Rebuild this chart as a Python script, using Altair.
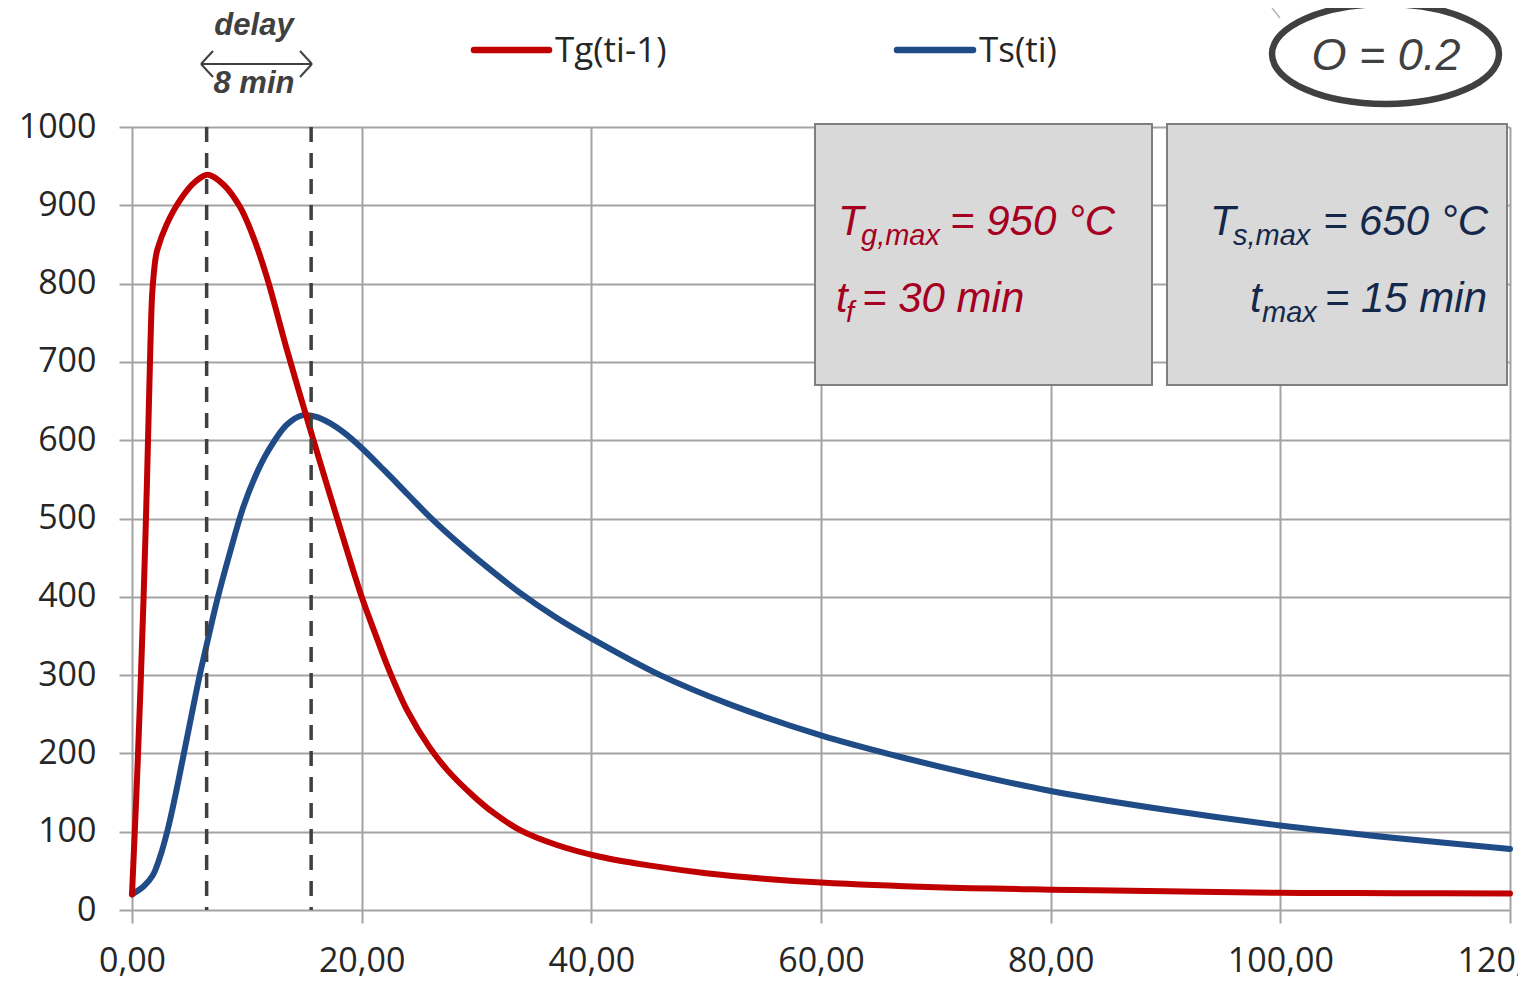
import altair as alt
import pandas as pd

# ---------------- data ----------------
TG_T = [0, 0.5, 1.0, 1.3, 1.6, 1.75, 1.9, 2.05, 2.2, 3.0, 4.2, 5.5, 6.6, 8.0, 9.4,
        10.5, 11.75, 13.5, 15.8, 17.2, 18.6, 20, 21.2, 22.4, 24, 25.9, 27.5, 29.7,
        31.5, 33.8, 37, 40.75, 45, 50, 55, 60, 70, 80, 90, 100, 110, 120]
TG_V = [20, 190, 395, 545, 720, 785, 813, 832, 843, 875, 907, 930, 939, 926, 898,
        862, 808, 715, 600, 532, 465, 400, 352, 306, 254, 208, 178, 146,
        124, 102, 83, 68, 57, 47, 40, 35, 29, 26, 24, 22, 21.5, 21]

TS_T = [0, 1, 1.8, 2.4, 3.1, 3.8, 4.45, 5.2, 5.9, 6.6, 7.4, 8.5, 9.7, 10.8, 11.8,
        13.5, 14.9, 16, 17.2, 18.6, 20, 22, 24, 26, 28, 30, 33.7, 37, 40, 46, 52,
        60, 66.5, 73, 80, 90, 100, 110, 120]
TS_V = [20, 30, 44, 66, 102, 148, 195, 250, 300, 345, 395, 455, 515, 556, 585,
        620, 632, 630, 622, 608, 590, 561, 531, 501, 474, 449, 406, 373, 347, 300, 263,
        223, 197, 174, 152, 128, 108, 92, 78]

X_TICKS = [0, 20, 40, 60, 80, 100, 120]
Y_TICKS = [0, 100, 200, 300, 400, 500, 600, 700, 800, 900, 1000]
DELAY_T = [6.5, 15.6]

SERIES_NAMES = ["Tg(ti-1)", "Ts(ti)"]

# ---------------- layout / style ----------------
W, H = 1378, 783
PAD_L, PAD_T, PAD_R, PAD_B = 124, 119, 8, 72

GRID = "#a3a3a3"
RED = "#c00000"
BLUE = "#1f4b87"
DARK = "#404040"
LABEL = "#262626"
RED_TXT = "#a50021"
NAVY_TXT = "#14284b"


def px(X):
    return X - 8 - PAD_L


def py(Y):
    return Y - 8 - PAD_T


ONE = pd.DataFrame({"k": [0]})


def txt(text, X, Y, size, color, align="left", style="normal", weight="normal",
        font="Liberation Sans"):
    return alt.Chart(ONE).mark_text(
        text=text, align=align, baseline="alphabetic", fontSize=size, font=font,
        fontStyle=style, fontWeight=weight, color=color
    ).encode(x=alt.value(px(X)), y=alt.value(py(Y)))


def seg(X1, Y1, X2, Y2, color, width, cap="butt"):
    return alt.Chart(ONE).mark_rule(color=color, strokeWidth=width, strokeCap=cap).encode(
        x=alt.value(px(X1)), y=alt.value(py(Y1)),
        x2=alt.value(px(X2)), y2=alt.value(py(Y2)))


def box(X1, Y1, X2, Y2):
    return alt.Chart(ONE).mark_rect(fill="#d9d9d9", stroke="#7f7f7f", strokeWidth=2).encode(
        x=alt.value(px(X1)), y=alt.value(py(Y1)),
        x2=alt.value(px(X2)), y2=alt.value(py(Y2)))


tg = pd.DataFrame({"t": TG_T, "v": TG_V})
ts = pd.DataFrame({"t": TS_T, "v": TS_V})

x_enc = alt.X(
    "t:Q",
    scale=alt.Scale(domain=[0, 120], nice=False, zero=False),
    axis=alt.Axis(
        values=X_TICKS, labelExpr="replace(format(datum.value, '.2f'), '.', ',')",
        grid=True, gridColor=GRID, gridWidth=2, tickColor=GRID, tickWidth=2,
        tickSize=13, domain=False, labelFont="Open Sans", labelFontSize=34,
        labelColor=LABEL, labelPadding=21, labelFlush=False, labelOverlap=False,
        title=None),
)
y_enc = alt.Y(
    "v:Q",
    scale=alt.Scale(domain=[0, 1000], nice=False, zero=True),
    axis=alt.Axis(
        values=Y_TICKS, format="d", grid=True, gridColor=GRID, gridWidth=2,
        tickColor=GRID, tickWidth=2, tickSize=13, domain=False,
        labelFont="Open Sans", labelFontSize=34, labelColor=LABEL,
        labelPadding=23, labelFlush=False, labelOverlap=False, title=None),
)

blue_line = alt.Chart(ts).mark_line(
    color=BLUE, strokeWidth=6, interpolate="catmull-rom", strokeCap="round"
).encode(x=x_enc, y=y_enc)

red_line = alt.Chart(tg).mark_line(
    color=RED, strokeWidth=6, interpolate="catmull-rom", strokeCap="round"
).encode(x="t:Q", y="v:Q")

dashed = alt.Chart(pd.DataFrame({"t": DELAY_T})).mark_rule(
    color=DARK, strokeWidth=3.5, strokeDash=[15, 11]
).encode(x="t:Q")

# ellipse around "O = 0.2"
ELL = ("M -1 0 C -1 -0.243 -0.552 -0.44 0 -0.44 C 0.552 -0.44 1 -0.243 1 0 "
       "C 1 0.243 0.552 0.44 0 0.44 C -0.552 0.44 -1 0.243 -1 0 Z")
ellipse = alt.Chart(ONE).mark_point(
    shape=ELL, filled=False, size=227 * 227, strokeWidth=6.5, color=DARK, opacity=1
).encode(x=alt.value(px(1385.5)), y=alt.value(py(54)))

layers = [
    blue_line, red_line, dashed,
    # info boxes
    box(815, 124, 1152, 385), box(1167, 124, 1507, 385),
    txt("T", 838, 235, 42, RED_TXT, style="italic"),
    txt("g,max", 861, 245, 29, RED_TXT, style="italic"),
    txt("= 950 °C", 950, 235, 42, RED_TXT, style="italic"),
    txt("t", 836, 312, 42, RED_TXT, style="italic"),
    txt("f", 846, 322, 29, RED_TXT, style="italic"),
    txt("= 30 min", 862, 312, 42, RED_TXT, style="italic"),
    txt("T", 1210, 235, 42, NAVY_TXT, style="italic"),
    txt("s,max", 1233, 245, 29, NAVY_TXT, style="italic"),
    txt("= 650 °C", 1488, 235, 42, NAVY_TXT, align="right", style="italic"),
    txt("t", 1250, 312, 42, NAVY_TXT, style="italic"),
    txt("max", 1262, 322, 29, NAVY_TXT, style="italic"),
    txt("= 15 min", 1487, 312, 42, NAVY_TXT, align="right", style="italic"),
    # legend
    seg(474, 50, 549, 50, RED, 6.5, cap="round"),
    txt(SERIES_NAMES[0], 555, 62, 35, LABEL, font="Open Sans"),
    seg(897, 50, 973, 50, BLUE, 6.5, cap="round"),
    txt(SERIES_NAMES[1], 979, 62, 35, LABEL, font="Open Sans"),
    # delay annotation
    txt("delay", 254, 35, 31, DARK, align="center", style="italic", weight="bold"),
    txt("8 min", 254, 93, 31, DARK, align="center", style="italic", weight="bold"),
    seg(201, 64, 312, 64, DARK, 2),
    seg(213, 51, 201, 64, DARK, 2), seg(201, 64, 213, 77, DARK, 2),
    seg(300, 51, 312, 64, DARK, 2), seg(312, 64, 300, 77, DARK, 2),
    # O = 0.2
    seg(1272, 8, 1280, 18, "#b5b5b5", 1.5),
    ellipse,
    txt("O = 0.2", 1386, 70, 45, DARK, align="center", style="italic"),
]

chart = alt.layer(*layers).properties(
    width=W, height=H,
    padding={"left": PAD_L, "top": PAD_T, "right": PAD_R, "bottom": PAD_B},
    autosize=alt.AutoSizeParams(type="none"),
    background="white",
).configure_view(strokeWidth=0)

chart.save("out.html", embed_options={"renderer": "svg", "actions": False})
